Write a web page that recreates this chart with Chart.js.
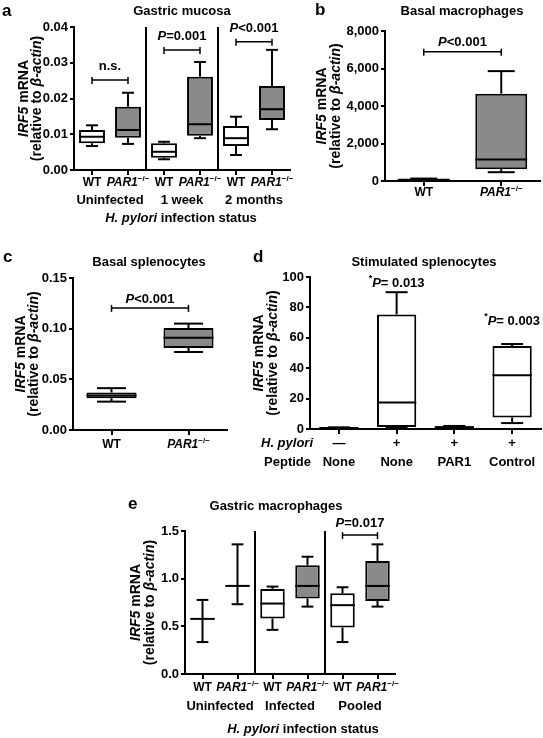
<!DOCTYPE html>
<html>
<head>
<meta charset="utf-8">
<title>IRF5 mRNA expression</title>
<script src="https://cdn.jsdelivr.net/npm/chart.js@4.4.1/dist/chart.umd.min.js"></script>
<style>
  html, body { margin: 0; padding: 0; background: #fff; }
  #figure { position: relative; width: 543px; height: 738px; overflow: hidden; }
  .panel { position: absolute; }
  .panel canvas { display: block; }
</style>
</head>
<body>
<div id="figure">
  <div class="panel" id="panel-a" style="left:0;top:0;"><canvas id="chart-a" width="300" height="230"></canvas></div>
  <div class="panel" id="panel-b" style="left:300px;top:0;"><canvas id="chart-b" width="243" height="210"></canvas></div>
  <div class="panel" id="panel-c" style="left:0;top:240px;"><canvas id="chart-c" width="250" height="220"></canvas></div>
  <div class="panel" id="panel-d" style="left:250px;top:240px;"><canvas id="chart-d" width="293" height="240"></canvas></div>
  <div class="panel" id="panel-e" style="left:120px;top:490px;"><canvas id="chart-e" width="300" height="248"></canvas></div>
</div>
<script>
const FONT = '"Liberation Sans", Arial, Helvetica, sans-serif';
const GREY = '#8a8a8a';

// a - gastric mucosa
const aGroups = ['Uninfected', '1 week', '2 months'];
const aGenotypes = ['WT', 'PAR1', 'WT', 'PAR1', 'WT', 'PAR1'];
const aMin = [0.0067, 0.0073, 0.0030, 0.0089, 0.0042, 0.0114];
const aQ1 = [0.0075, 0.0090, 0.0034, 0.0096, 0.0067, 0.0140];
const aMedian = [0.0093, 0.0112, 0.0051, 0.0128, 0.0089, 0.0170];
const aQ3 = [0.0112, 0.0177, 0.0075, 0.0261, 0.0123, 0.0235];
const aMax = [0.0125, 0.0216, 0.0079, 0.0302, 0.0149, 0.0336];
const aBrackets = [[0, 1, 0.0252, 'n.s.'], [2, 3, 0.0336, '_P_=0.001'], [4, 5, 0.0359, '_P_<0.001']];

// b - basal macrophages
const bGenotypes = ['WT', 'PAR1'];
const bMin = [20, 470];
const bQ1 = [40, 630];
const bMedian = [70, 1150];
const bQ3 = [100, 4660];
const bMax = [130, 5860];
const bBrackets = [[0, 1, 6900, '_P_<0.001']];

// c - basal splenocytes
const cGenotypes = ['WT', 'PAR1'];
const cMin = [0.028, 0.077];
const cQ1 = [0.0314, 0.081];
const cMedian = [0.034, 0.091];
const cQ3 = [0.037, 0.1007];
const cMax = [0.0413, 0.105];
const cBrackets = [[0, 1, 0.1205, '_P_<0.001']];

// d - stimulated splenocytes
const dInfection = ['—', '+', '+', '+'];
const dPeptide = ['None', 'None', 'PAR1', 'Control'];
const dMin = [0.2, 0.8, 0.4, 3.9];
const dQ1 = [0.4, 1.3, 0.8, 7.6];
const dMedian = [0.6, 17.4, 1.2, 35.4];
const dQ3 = [0.9, 75.4, 1.8, 54.6];
const dMax = [1.1, 90, 2.0, 55.9];
const dNotes = [[1, 96, '^*^_P_= 0.013'], [3, 71, '^*^_P_= 0.003']];

// e - gastric macrophages
const eGroups = ['Uninfected', 'Infected', 'Pooled'];
const eGenotypes = ['WT', 'PAR1', 'WT', 'PAR1', 'WT', 'PAR1'];
const eMin = [0.335, 0.732, 0.463, 0.707, 0.335, 0.707];
const eQ1 = [0.578, 0.924, 0.582, 0.791, 0.488, 0.767];
const eMedian = [0.578, 0.924, 0.739, 0.924, 0.722, 0.924];
const eQ3 = [0.578, 0.924, 0.892, 1.14, 0.847, 1.185];
const eMax = [0.777, 1.36, 0.917, 1.23, 0.91, 1.36];
const eBrackets = [[4, 5, 1.457, '_P_=0.017']];

// text markup: _italic_  ^superscript^
function parseRich(str) {
    const segs = [];
    let italic = false, sup = false, buf = '';
    const flush = () => { if (buf) segs.push({ text: buf, italic, sup }); buf = ''; };
    for (const ch of str) {
        if (ch === '_') { flush(); italic = !italic; }
        else if (ch === '^') { flush(); sup = !sup; }
        else buf += ch;
    }
    flush();
    return segs;
}

function segFont(seg, size) {
    const s = seg.sup ? Math.round(size * 0.68) : size;
    return (seg.italic ? 'italic ' : '') + 'bold ' + s + 'px ' + FONT;
}

function drawRich(ctx, str, x, y, size, align) {
    const segs = parseRich(str);
    let w = 0;
    segs.forEach(s => { ctx.font = segFont(s, size); s.w = ctx.measureText(s.text).width; w += s.w; });
    let cx = align === 'center' ? x - w / 2 : align === 'right' ? x - w : x;
    ctx.textAlign = 'left';
    ctx.textBaseline = 'middle';
    segs.forEach(s => {
        ctx.font = segFont(s, size);
        ctx.fillText(s.text, cx, s.sup ? y - size * 0.38 : y);
        cx += s.w;
    });
}

function genotypeLabel(g) {
    return g === 'WT' ? 'WT' : '_' + g + '_^−/−^';
}

function genotypeFill(g) {
    return g === 'WT' ? '#fff' : GREY;
}

function strokeLine(ctx, x1, y1, x2, y2) {
    ctx.beginPath();
    ctx.moveTo(x1, y1);
    ctx.lineTo(x2, y2);
    ctx.stroke();
}

// whiskers, caps, medians and group separators
function boxPlotPlugin(cfg) {
    return {
        id: 'boxPlot',
        afterDatasetsDraw(chart) {
            const { ctx, chartArea } = chart;
            const x = chart.scales.x, y = chart.scales.y;
            ctx.save();
            ctx.strokeStyle = '#000';
            ctx.lineWidth = 2;
            chart.getDatasetMeta(0).data.forEach((bar, i) => {
                const half = bar.width / 2;
                const cap = half * cfg.capPct;
                const top = y.getPixelForValue(cfg.max[i]);
                const bottom = y.getPixelForValue(cfg.min[i]);
                strokeLine(ctx, bar.x, y.getPixelForValue(cfg.q3[i]), bar.x, top);
                strokeLine(ctx, bar.x, y.getPixelForValue(cfg.q1[i]), bar.x, bottom);
                strokeLine(ctx, bar.x - cap, top, bar.x + cap, top);
                strokeLine(ctx, bar.x - cap, bottom, bar.x + cap, bottom);
                const med = y.getPixelForValue(cfg.median[i]);
                strokeLine(ctx, bar.x - half, med, bar.x + half, med);
            });
            const groups = cfg.groupRow ? cfg.groupRow.texts.length : 0;
            for (let k = 1; k < groups; k++) {
                const sx = x.getPixelForValue(2 * k - 0.5);
                strokeLine(ctx, sx, chartArea.top, sx, chartArea.bottom);
            }
            ctx.restore();
        }
    };
}

// titles, axis titles, category rows, brackets, notes
function labelPlugin(cfg, ox, oy) {
    return {
        id: 'panelLabels',
        afterDraw(chart) {
            const { ctx, chartArea } = chart;
            const x = chart.scales.x, y = chart.scales.y;
            ctx.save();
            ctx.fillStyle = '#000';
            ctx.strokeStyle = '#000';

            drawRich(ctx, cfg.letter.text, cfg.letter.x - ox, cfg.letter.y - oy, 17, 'left');
            drawRich(ctx, cfg.title.text, cfg.title.x - ox, cfg.title.y - oy, 13, 'center');

            const yc = (chartArea.top + chartArea.bottom) / 2;
            ['_IRF5_ mRNA', '(relative to _β-actin_)'].forEach((t, i) => {
                ctx.save();
                ctx.translate(cfg.yTitleX[i] - ox, yc);
                ctx.rotate(-Math.PI / 2);
                drawRich(ctx, t, 0, 0, 14, 'center');
                ctx.restore();
            });

            cfg.categoryRows.forEach(row => {
                row.texts.forEach((t, i) => drawRich(ctx, t, x.getPixelForValue(i), row.y - oy, row.size || 13, 'center'));
            });
            if (cfg.groupRow) {
                cfg.groupRow.texts.forEach((t, k) => {
                    drawRich(ctx, t, x.getPixelForValue(2 * k + 0.5), cfg.groupRow.y - oy, 13, 'center');
                });
            }
            (cfg.texts || []).forEach(t => drawRich(ctx, t.text, t.x - ox, t.y - oy, 13, t.align));

            ctx.lineWidth = 1.5;
            (cfg.brackets || []).forEach(([from, to, value, label]) => {
                const x1 = x.getPixelForValue(from), x2 = x.getPixelForValue(to);
                const by = y.getPixelForValue(value);
                strokeLine(ctx, x1, by, x2, by);
                strokeLine(ctx, x1, by - 3, x1, by + 4);
                strokeLine(ctx, x2, by - 3, x2, by + 4);
                drawRich(ctx, label, (x1 + x2) / 2, by - cfg.bracketGap, 13, 'center');
            });
            (cfg.notes || []).forEach(([at, value, label]) => {
                drawRich(ctx, label, x.getPixelForValue(at), y.getPixelForValue(value), 13, 'center');
            });
            ctx.restore();
        }
    };
}

function makePanel(id, cfg) {
    const holder = document.getElementById('panel-' + id);
    const canvas = document.getElementById('chart-' + id);
    const ox = holder.offsetLeft, oy = holder.offsetTop;
    const yAxisWidth = 40, xAxisHeight = 6;
    const p = cfg.plot;
    const padding = {
        left: p.l - ox - yAxisWidth,
        top: p.t - oy,
        right: ox + canvas.width - p.r,
        bottom: oy + canvas.height - p.b - xAxisHeight
    };
    cfg.letter = { text: id, x: cfg.letterAt[0], y: cfg.letterAt[1] };

    return new Chart(canvas, {
        type: 'bar',
        data: {
            labels: cfg.labels,
            datasets: [{
                data: cfg.q1.map((v, i) => [v, cfg.q3[i]]),
                backgroundColor: cfg.fills,
                borderColor: '#000',
                borderWidth: 2,
                borderSkipped: false,
                barPercentage: cfg.barPct,
                categoryPercentage: 1
            }]
        },
        options: {
            responsive: false,
            animation: false,
            events: [],
            layout: { padding: padding },
            plugins: {
                legend: { display: false },
                tooltip: { enabled: false }
            },
            scales: {
                x: {
                    offset: true,
                    grid: { offset: false, drawOnChartArea: false, drawTicks: true, tickLength: 5, color: '#000', lineWidth: 2 },
                    border: { color: '#000', width: 2 },
                    ticks: { display: false },
                    afterFit: s => { s.height = xAxisHeight; }
                },
                y: {
                    min: 0,
                    max: cfg.yMax,
                    grid: { drawOnChartArea: false, drawTicks: true, tickLength: 4, color: '#000', lineWidth: 2 },
                    border: { color: '#000', width: 2 },
                    ticks: {
                        stepSize: cfg.yStep,
                        color: '#000',
                        padding: 2,
                        font: { family: FONT, size: 13, weight: 'bold' },
                        callback: cfg.yFormat
                    },
                    afterFit: s => { s.width = yAxisWidth; }
                }
            }
        },
        plugins: [boxPlotPlugin(cfg), labelPlugin(cfg, ox, oy)]
    });
}

const thousands = v => String(v).replace(/\B(?=(\d{3})+(?!\d))/g, ',');

makePanel('a', {
    plot: { l: 74, t: 27, r: 290, b: 170 },
    labels: aGenotypes, min: aMin, q1: aQ1, median: aMedian, q3: aQ3, max: aMax,
    fills: aGenotypes.map(genotypeFill),
    yMax: 0.04, yStep: 0.01, yFormat: v => v.toFixed(2),
    barPct: 0.72, capPct: 0.46,
    letterAt: [2, 11],
    title: { text: 'Gastric mucosa', x: 182, y: 11 },
    yTitleX: [24, 37],
    categoryRows: [{ y: 183, size: 12, texts: aGenotypes.map(genotypeLabel) }],
    groupRow: { y: 200, texts: aGroups },
    texts: [{ text: '_H. pylori_ infection status', x: 181, y: 218, align: 'center' }],
    brackets: aBrackets, bracketGap: 13
});

makePanel('b', {
    plot: { l: 385, t: 31, r: 540, b: 181 },
    labels: bGenotypes, min: bMin, q1: bQ1, median: bMedian, q3: bQ3, max: bMax,
    fills: bGenotypes.map(genotypeFill),
    yMax: 8000, yStep: 2000, yFormat: thousands,
    barPct: 0.67, capPct: 0.52,
    letterAt: [315, 10],
    title: { text: 'Basal macrophages', x: 462, y: 11 },
    yTitleX: [322, 336],
    categoryRows: [{ y: 193, size: 12, texts: bGenotypes.map(genotypeLabel) }],
    brackets: bBrackets, bracketGap: 9
});

makePanel('c', {
    plot: { l: 73, t: 278, r: 227, b: 430 },
    labels: cGenotypes, min: cMin, q1: cQ1, median: cMedian, q3: cQ3, max: cMax,
    fills: cGenotypes.map(genotypeFill),
    yMax: 0.15, yStep: 0.05, yFormat: v => v.toFixed(2),
    barPct: 0.65, capPct: 0.58,
    letterAt: [3, 257],
    title: { text: 'Basal splenocytes', x: 149, y: 262 },
    yTitleX: [21, 34],
    categoryRows: [{ y: 445, size: 12, texts: cGenotypes.map(genotypeLabel) }],
    brackets: cBrackets, bracketGap: 8
});

makePanel('d', {
    plot: { l: 310, t: 277, r: 541, b: 429 },
    labels: dPeptide, min: dMin, q1: dQ1, median: dMedian, q3: dQ3, max: dMax,
    fills: dPeptide.map(() => '#fff'),
    yMax: 100, yStep: 20, yFormat: v => String(v),
    barPct: 0.68, capPct: 0.56,
    letterAt: [253, 257],
    title: { text: 'Stimulated splenocytes', x: 424, y: 262 },
    yTitleX: [259, 273],
    categoryRows: [{ y: 443, texts: dInfection }, { y: 462, texts: dPeptide }],
    texts: [
        { text: '_H. pylori_', x: 313, y: 443, align: 'right' },
        { text: 'Peptide', x: 311, y: 462, align: 'right' }
    ],
    notes: dNotes
});

makePanel('e', {
    plot: { l: 185, t: 531, r: 395, b: 674 },
    labels: eGenotypes, min: eMin, q1: eQ1, median: eMedian, q3: eQ3, max: eMax,
    fills: eGenotypes.map(genotypeFill),
    yMax: 1.5, yStep: 0.5, yFormat: v => v.toFixed(1),
    barPct: 0.7, capPct: 0.48,
    letterAt: [128, 504],
    title: { text: 'Gastric macrophages', x: 276, y: 506 },
    yTitleX: [136, 150],
    categoryRows: [{ y: 688, size: 12, texts: eGenotypes.map(genotypeLabel) }],
    groupRow: { y: 706, texts: eGroups },
    texts: [{ text: '_H. pylori_ infection status', x: 303, y: 729, align: 'center' }],
    brackets: eBrackets, bracketGap: 12
});
</script>
</body>
</html>
